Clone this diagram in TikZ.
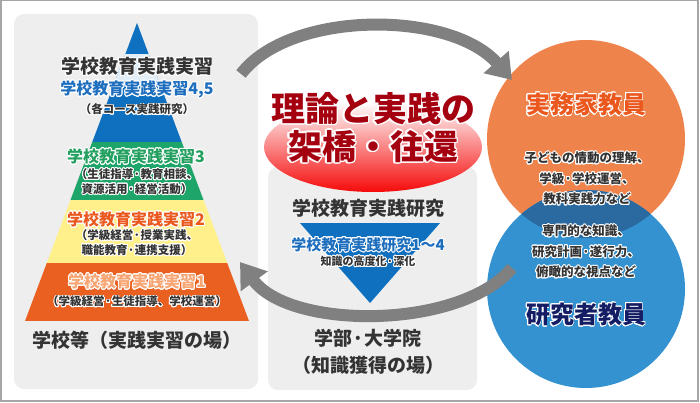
\documentclass[tikz,border=0pt]{standalone}
\usepackage{fontspec}
\setmainfont{Noto Sans CJK JP}
\usepackage[copies]{contour}
\contourlength{0.9pt}
\contournumber{20}
\usepackage{tikz}
\usetikzlibrary{arrows.meta}

\definecolor{panelgray}{RGB}{238,238,238}
\definecolor{bordergray}{RGB}{165,165,165}
\definecolor{arrowgray}{RGB}{128,128,128}
\definecolor{txtgray}{RGB}{51,51,51}
\definecolor{bandblue}{RGB}{16,112,192}
\definecolor{bandgreen}{RGB}{30,165,105}
\definecolor{bandyellow}{RGB}{255,240,140}
\definecolor{bandorange}{RGB}{234,96,32}
\definecolor{txtblue}{RGB}{30,110,190}
\definecolor{txtgreen}{RGB}{35,160,95}
\definecolor{txtorange}{RGB}{235,88,30}
\definecolor{txtpeach}{RGB}{246,165,115}
\definecolor{bridgered}{RGB}{245,10,10}
\definecolor{titlered}{RGB}{165,0,15}
\definecolor{circorange}{RGB}{239,131,76}
\definecolor{circblue}{RGB}{51,146,207}
\definecolor{overlapblue}{RGB}{42,106,160}
\definecolor{navytext}{RGB}{20,28,100}

\begin{document}
\begin{tikzpicture}[x=1pt, y=-1pt,
    headtext/.style={font=\bfseries\fontsize{19}{27}\selectfont, text=txtgray, align=center, inner sep=0},
    subtext/.style={font=\bfseries\fontsize{16}{19}\selectfont, inner sep=0},
    smalltext/.style={font=\bfseries\fontsize{11.5}{14.5}\selectfont, text=txtgray, align=center, inner sep=0},
    circtext/.style={font=\bfseries\fontsize{12.5}{20.5}\selectfont, text=txtgray, align=center, inner sep=0},
    bigtext/.style={font=\bfseries\fontsize{24}{28}\selectfont, inner sep=0},
    cyclearrow/.style={draw=arrowgray, line width=12pt, -{Triangle[length=24pt,width=32pt]}}]

    \useasboundingbox (0,0) rectangle (700,403);
    \draw[bordergray, line width=1.5pt] (0.75,0.75) rectangle (698,401);

    % Background panels
    \fill[panelgray, rounded corners=10] (14,14) rectangle (258,389);
    \fill[panelgray, rounded corners=10] (268,167) rectangle (477,390);

    % Pyramid of the practice courses
    \coordinate (apex) at (137,23);
    \coordinate (baseL) at (25,321);
    \coordinate (baseR) at (249,321);
    \begin{scope}
        \clip (apex) -- (baseL) -- (baseR) -- cycle;
        \fill[bandblue] (0,0) rectangle (300,142);
        \fill[bandgreen] (0,142) rectangle (300,200);
        \fill[bandyellow] (0,200) rectangle (300,263);
        \fill[bandorange] (0,263) rectangle (300,321);
        \fill[white, opacity=0.88] (0,54) rectangle (300,81);
    \end{scope}

    % Inverted triangle of the research courses
    \fill[bandblue] (300,223) -- (440,223) -- (370,303) -- cycle;

    % Red ellipse behind the title
    \shade[top color=white, middle color=bridgered!24, bottom color=bridgered] (373,147) ellipse [x radius=109, y radius=45];

    % The two kinds of teachers
    \fill[circorange] (586,139) circle (99);
    \fill[circblue] (586,289) circle (99);
    \begin{scope}
        \clip (586,139) circle (99);
        \fill[overlapblue] (586,289) circle (99);
    \end{scope}

    % Arrows going round
    \coordinate (topTail) at (241,74);
    \coordinate (topTip) at (512,80);
    \coordinate (botTail) at (512,268);
    \coordinate (botTip) at (240,262);
    \draw[cyclearrow] (topTail) .. controls (290,10) and (450,10) .. (topTip);
    \draw[cyclearrow] (botTail) .. controls (460,330) and (290,330) .. (botTip);

    % Labels of the pyramid
    \node[headtext] (pyrTitle) at (137,67) {\contour{white}{学校教育実践実習}};
    \node[subtext, text=txtblue] (prac45) at (137,90) {\contour{white}{学校教育実践実習4,5}};
    \node[smalltext] (prac45note) at (137,110) {\contour{white}{（各コース実践研究）}};
    \node[subtext, text=txtgreen] (prac3) at (136,157) {\contour{white}{学校教育実践実習3}};
    \node[smalltext] (prac3note) at (137,182) {\contour{white}{（生徒指導·教育相談、}\\\contour{white}{資源活用·経営活動）}};
    \node[subtext, text=txtorange] (prac2) at (136,220) {\contour{white}{学校教育実践実習2}};
    \node[smalltext] (prac2note) at (137,243) {\contour{white}{（学級経営·授業実践、}\\\contour{white}{職能教育·連携支援）}};
    \node[subtext, text=txtpeach] (prac1) at (137,282) {\contour{white}{学校教育実践実習1}};
    \node[smalltext] (prac1note) at (137,302) {\contour{white}{（学級経営·生徒指導、学校運営）}};
    \node[headtext] (schoolPlace) at (137,340) {学校等（実践実習の場）};

    % Title in the ellipse
    \node[font=\bfseries\fontsize{34}{38}\selectfont, text=titlered, align=center, inner sep=0] (bridge) at (373,128)
        {{\contourlength{1.3pt}\contour{white}{理論と実践の}}\\{\contourlength{1.3pt}\contour{white}{架橋・往還}}};

    % Labels of the university side
    \node[headtext] (resTitle) at (368,208) {学校教育実践研究};
    \node[font=\bfseries\fontsize{15}{18}\selectfont, text=txtblue, inner sep=0] (res14) at (368,245) {\contour{white}{学校教育実践研究1～4}};
    \node[font=\bfseries\fontsize{11}{13}\selectfont, text=txtgray, inner sep=0] (resNote) at (368,262) {\contour{white}{知識の高度化·深化}};
    \node[headtext] (univPlace) at (368,352) {学部·大学院\\（知識獲得の場）};

    % Labels of the circles
    \node[bigtext, text=txtorange] (practTeacher) at (586,105) {\contour{white}{実務家教員}};
    \node[circtext] (practNote) at (587,179) {\contour{white}{子どもの情動の理解、}\\\contour{white}{学級·学校運営、}\\\contour{white}{教科実践力など}};
    \node[circtext] (resNote2) at (586,252) {\contour{white}{専門的な知識、}\\\contour{white}{研究計画·遂行力、}\\\contour{white}{俯瞰的な視点など}};
    \node[bigtext, text=navytext] (resTeacher) at (586,315) {\contour{white}{研究者教員}};

\end{tikzpicture}
\end{document}
